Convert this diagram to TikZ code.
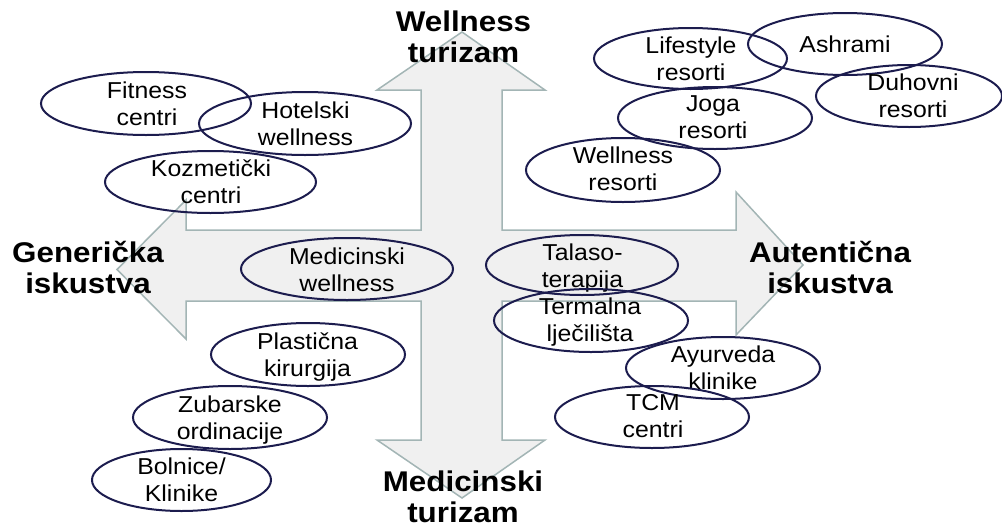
\documentclass[tikz,border=0pt]{standalone}
\usepackage{fontspec}
\setmainfont{Liberation Sans}[FakeStretch=1.08]
\newfontfamily\hdfont{Liberation Sans}[FakeStretch=1.1]
\usetikzlibrary{shapes.geometric}
\definecolor{ovalline}{HTML}{1C1C4E}
\definecolor{arrfill}{HTML}{F0F0F0}
\definecolor{arrline}{HTML}{A3B5B5}
\tikzset{
  oval/.style={ellipse, draw=ovalline, line width=2pt, inner sep=0pt},
  txt/.style={align=center, inner sep=0pt, text depth=0pt, font=\fontsize{23}{27}\selectfont},
  hd/.style={align=center, inner sep=0pt, text depth=0pt, font=\hdfont\bfseries\fontsize{28.5}{31}\selectfont},
  crossarrow/.style={fill=arrfill, draw=arrline, line width=1.5pt, line join=miter}
}
\begin{document}
\begin{tikzpicture}[x=1pt,y=-1pt]
\useasboundingbox (0,0) rectangle (1002,528);
% four-way arrow
\draw[crossarrow] (462,32) -- (545,90) -- (502,90) -- (502,230) -- (736,230) -- (736,192) -- (803,265) -- (736,335) -- (736,301) -- (502,301) -- (502,440) -- (545,440) -- (462,498) -- (377,440) -- (421,440) -- (421,301) -- (186,301) -- (186,339) -- (117,269.5) -- (186,200) -- (186,230) -- (421,230) -- (421,90) -- (377,90) -- cycle;

% axis labels
\node[hd] (wt) at (463.5,36.5) {Wellness\\turizam};
\node[hd] (gi) at (88,267.5) {Generička\\iskustva};
\node[hd] (ai) at (830,267.5) {Autentična\\iskustva};
\node[hd] (mt) at (463,497) {Medicinski\\turizam};

% ovals, left-top
\node[oval, minimum width=210pt, minimum height=63pt] (fit) at (146,103.5) {};
\node[txt] (fitT) at (147,103.5) {Fitness\\centri};
\node[oval, minimum width=212pt, minimum height=63pt] (hot) at (305,123.5) {};
\node[txt] (hotT) at (305.5,123.5) {Hotelski\\wellness};
\node[oval, minimum width=211pt, minimum height=62pt] (koz) at (210.5,182) {};
\node[txt] (kozT) at (211,182) {Kozmetički\\centri};
\node[oval, minimum width=212pt, minimum height=62pt] (mw) at (347,269) {};
\node[txt] (mwT) at (347,270) {Medicinski\\wellness};

% ovals, left-bottom
\node[oval, minimum width=194pt, minimum height=63pt] (pk) at (308,354.5) {};
\node[txt] (pkT) at (307.5,354.5) {Plastična\\kirurgija};
\node[oval, minimum width=194pt, minimum height=63pt] (zo) at (230,417.5) {};
\node[txt] (zoT) at (230,418) {Zubarske\\ordinacije};
\node[oval, minimum width=179pt, minimum height=62pt] (bk) at (181.5,480) {};
\node[txt] (bkT) at (181.5,480) {Bolnice/\\Klinike};

% ovals, right-top
\node[oval, minimum width=193pt, minimum height=61pt] (lr) at (690.5,58.5) {};
\node[txt] (lrT) at (691,58.5) {Lifestyle\\resorti};
\node[oval, minimum width=194pt, minimum height=62pt] (as) at (845,44) {};
\node[txt] (asT) at (845,44) {Ashrami};
\node[oval, minimum width=186pt, minimum height=62pt] (dr) at (909,96) {};
\node[txt] (drT) at (913,96) {Duhovni\\resorti};
\node[oval, minimum width=194pt, minimum height=62pt] (jr) at (715,118) {};
\node[txt] (jrT) at (713,117.5) {Joga\\resorti};
\node[oval, minimum width=194pt, minimum height=64pt] (wr) at (623,170) {};
\node[txt] (wrT) at (623,168.5) {Wellness\\resorti};

% ovals, right-bottom
\node[oval, minimum width=192pt, minimum height=60pt] (tt) at (582,265) {};
\node[txt] (ttT) at (582.5,266) {Talaso-\\terapija};
\node[oval, minimum width=194pt, minimum height=63pt] (tl) at (591,320.5) {};
\node[txt] (tlT) at (590,320) {Termalna\\lječilišta};
\node[oval, minimum width=194pt, minimum height=62pt] (ak) at (723,368) {};
\node[txt] (akT) at (723,368) {Ayurveda\\klinike};
\node[oval, minimum width=194pt, minimum height=62pt] (tcm) at (652,417) {};
\node[txt] (tcmT) at (653,416) {TCM\\centri};
\end{tikzpicture}
\end{document}
